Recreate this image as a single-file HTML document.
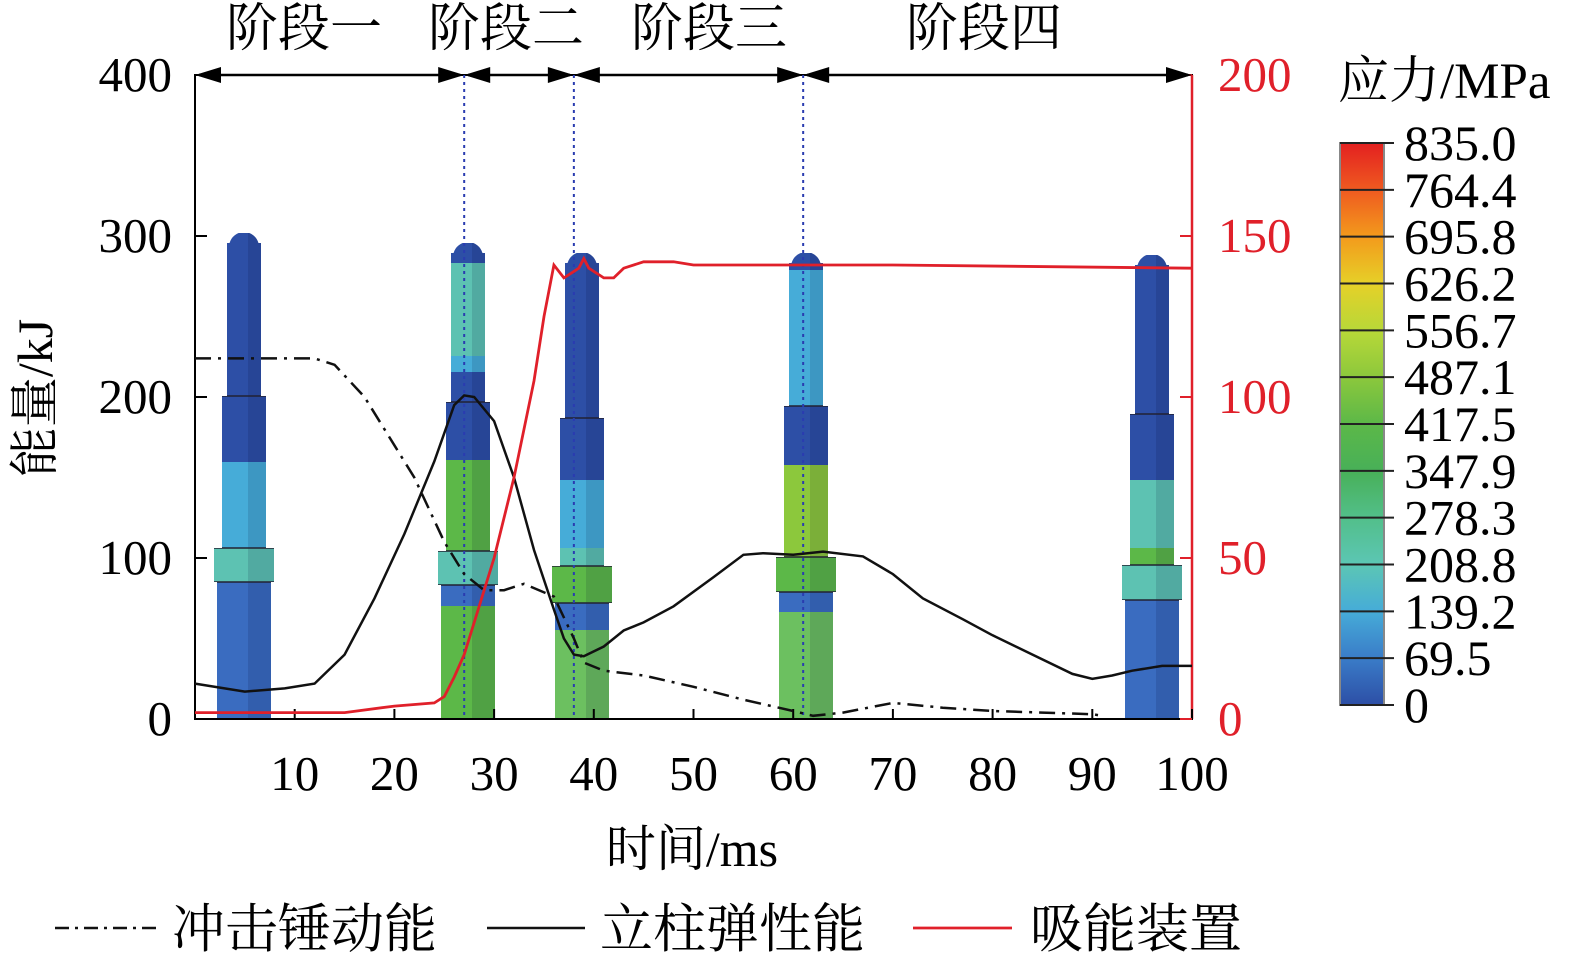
<!DOCTYPE html>
<html><head><meta charset="utf-8"><style>
body{margin:0;background:#fff}
svg text{font-family:"Liberation Serif","Noto Serif CJK SC",serif}
</style></head><body>
<svg width="1575" height="960" xmlns="http://www.w3.org/2000/svg" id="chart">
<g id="pillars"></g>
<g id="axes"></g>
<g id="series"></g>
<g id="cbar"></g>
</svg>
<script>
const NS="http://www.w3.org/2000/svg";
const xTicks=[10,20,30,40,50,60,70,80,90,100];
const yLeftTicks=[0,100,200,300,400];
const yRightTicks=[0,50,100,150,200];
const kinT=[0,12,14,17,20,22,25,27,29,31,33,36,38,39,41,45,50,55,60,62,65,70,75,80,85,90,91];
const kinV=[224,224,220,200,170,150,110,90,80,80,84,76,50,35,30,27,20,12,5,2,4,10,7,5,4,3,2];
const elaT=[0,5,9,12,15,18,21,24,26,27,28,30,32,34,36,37,38,39,41,43,45,48,52,55,57,60,63,67,70,73,77,80,84,88,90,92,94,97,100];
const elaV=[22,17,19,22,40,75,115,160,195,201,200,185,150,105,68,50,40,39,45,55,60,70,88,102,103,102,104,101,90,75,62,52,40,28,25,27,30,33,33];
const absT=[0,15,20,24,25,26,27,28,30,32,34,35,36,37,38,38.5,39,39.5,41,42,43,45,48,50,60,70,100];
const absV=[2,2,4,5,7,13,20,30,50,75,105,125,141,137,139,140,143,140,137,137,140,142,142,141,141,141,140];
const cbLabels=["835.0","764.4","695.8","626.2","556.7","487.1","417.5","347.9","278.3","208.8","139.2","69.5","0"];
const stageNames=["阶段一","阶段二","阶段三","阶段四"];
const stageBounds=[0,27,38,61,100];

const X0=195,X1=1192,YB=719,YT=75;
const sx=t=>X0+(X1-X0)*t/100;
const syL=v=>YB-(YB-YT)*v/400;
const syR=v=>YB-(YB-YT)*v/200;
function el(tag,a,parent,txt){const e=document.createElementNS(NS,tag);for(const k in a)e.setAttribute(k,a[k]);if(txt!==undefined)e.textContent=txt;parent.appendChild(e);return e;}
const ax=document.getElementById('axes'),se=document.getElementById('series'),pi=document.getElementById('pillars'),cb=document.getElementById('cbar');

const DB="#2d4fa6",MB="#3a6cc0",CY="#46acd8",TL="#5dc2b2",GR="#5cb848",LG="#6cc060";
const pillars=[
 {cx:244,top:233,rod:396,col:548,colB:582,bands:[[233,396,DB],[396,462,DB],[462,548,CY],[548,582,TL],[582,719,MB]]},
 {cx:468,top:243,rod:402,col:551,colB:585,bands:[[243,263,DB],[263,356,TL],[356,372,CY],[372,402,DB],[402,460,DB],[460,551,GR],[551,585,TL],[585,606,MB],[606,719,GR]]},
 {cx:582,top:253,rod:418,col:566,colB:603,bands:[[253,418,DB],[418,480,DB],[480,548,CY],[548,566,TL],[566,603,GR],[603,630,MB],[630,719,LG]]},
 {cx:806,top:253,rod:406,col:557,colB:592,bands:[[253,270,DB],[270,406,CY],[406,465,DB],[465,557,"#8cc83c"],[557,592,GR],[592,612,MB],[612,719,LG]]},
 {cx:1152,top:255,rod:414,col:565,colB:600,bands:[[255,414,DB],[414,480,DB],[480,548,TL],[548,565,GR],[565,600,TL],[600,719,MB]]}
];
pillars.forEach((p,i)=>{
 const g=el('g',{},pi);
 
 
 const cp=el('clipPath',{id:'cp'+i},g);
 el('rect',{x:p.cx-17,y:p.top+10,width:34,height:p.rod-p.top-10},cp);
 el('circle',{cx:p.cx,cy:p.top+14,r:15},cp);
 el('rect',{x:p.cx-22,y:p.rod,width:44,height:p.col-p.rod},cp);
 el('rect',{x:p.cx-30,y:p.col,width:60,height:p.colB-p.col},cp);
 el('rect',{x:p.cx-27,y:p.colB,width:54,height:YB-p.colB},cp);
 const gg=el('g',{'clip-path':'url(#cp'+i+')'},g);
 p.bands.forEach(b=>el('rect',{x:p.cx-31,y:b[0],width:62,height:b[1]-b[0],fill:b[2]},gg));
 el('rect',{x:p.cx+4,y:p.top,width:30,height:YB-p.top,fill:"rgba(0,0,40,0.12)"},gg);
 [p.rod,p.col,p.colB].forEach(y=>el('line',{x1:p.cx-30,x2:p.cx+30,y1:y,y2:y,stroke:"#223",'stroke-width':1.5},gg));
});

el('rect',{x:X0,y:YT,width:X1-X0,height:YB-YT,fill:'none',stroke:'#000','stroke-width':2},ax);
el('line',{x1:X1,y1:YT,x2:X1,y2:YB,stroke:'#e0202a','stroke-width':2.5},ax);
xTicks.forEach(t=>{el('line',{x1:sx(t),x2:sx(t),y1:YB,y2:YB-10,stroke:'#000','stroke-width':2},ax);
 const tx=el('text',{x:sx(t),y:790,'font-size':49,'text-anchor':'middle'},ax,t);});
yLeftTicks.forEach(v=>{el('line',{x1:X0,x2:X0+12,y1:syL(v),y2:syL(v),stroke:'#000','stroke-width':2},ax);
 const tx=el('text',{x:172,y:syL(v)+16,'font-size':49,'text-anchor':'end'},ax,v);});
yRightTicks.forEach(v=>{el('line',{x1:X1,x2:X1-12,y1:syR(v),y2:syR(v),stroke:'#e0202a','stroke-width':2},ax);
 const tx=el('text',{x:1218,y:syR(v)+16,'font-size':49,fill:'#e0202a'},ax,v);});
let t=el('text',{x:692,y:866,'font-size':50,'text-anchor':'middle'},ax,'时间/ms');
t=el('text',{x:0,y:0,'font-size':50,'text-anchor':'middle',transform:'translate(52,398) rotate(-90)'},ax,'能量/kJ');

for(let i=0;i<4;i++){
 const a=sx(stageBounds[i]),b=sx(stageBounds[i+1]);
 el('line',{x1:a+4,x2:b-4,y1:YT,y2:YT,stroke:'#000','stroke-width':2.5},ax);
 el('path',{d:`M${a} ${YT}l26 -8v16z M${b} ${YT}l-26 -8v16z`,fill:'#000'},ax);
 t=el('text',{x:[304,506,709,984][i],y:46,'font-size':52,'text-anchor':'middle'},ax,stageNames[i]);
 
 if(i>0) el('line',{x1:a,x2:a,y1:YT,y2:YB,stroke:'#2a3cb0','stroke-width':2,'stroke-dasharray':'3 4'},ax);
}

function path(T,V,sy){return T.map((x,i)=>(i?'L':'M')+sx(x).toFixed(1)+' '+sy(V[i]).toFixed(1)).join(' ');}
let p=el('path',{d:path(kinT,kinV,syL),fill:'none',stroke:'#111','stroke-width':2.5,'stroke-dasharray':'16 7 3 7'},se);

p=el('path',{d:path(elaT,elaV,syL),fill:'none',stroke:'#111','stroke-width':2.5},se);

p=el('path',{d:path(absT,absV,syR),fill:'none',stroke:'#e0202a','stroke-width':2.8},se);


const cbc=["#e32020","#ef5a20","#f39a1c","#e6d028","#b8d838","#8cc83c","#5cb848","#48b058","#52bf8a","#5cc6b4","#46acd8","#3a7cc8","#2d4fa6"];
const CT=143,CBt=705,seg=(CBt-CT)/12;
let grad=el('linearGradient',{id:'cg',x1:0,y1:0,x2:0,y2:1},cb);
cbc.forEach((c,i)=>el('stop',{offset:i/12,'stop-color':c},grad));
el('rect',{x:1340,y:CT,width:44,height:CBt-CT,fill:'url(#cg)',stroke:'#888','stroke-width':2},cb);
cbLabels.forEach((l,i)=>{const y=CT+seg*i;
 el('line',{x1:1340,x2:1394,y1:y,y2:y,stroke:'#222','stroke-width':2},cb);
 const tx=el('text',{x:1404,y:y+17,'font-size':50},cb,l);});
t=el('text',{x:1338,y:98,'font-size':51},cb,'应力/MPa');

const lg=el('g',{},document.getElementById('chart'));

el('line',{x1:55,x2:160,y1:928,y2:928,stroke:'#111','stroke-width':2.5,'stroke-dasharray':'14 6 3 6'},lg);
el('text',{x:172,y:947,'font-size':53},lg,'冲击锤动能');
el('line',{x1:487,x2:585,y1:928,y2:928,stroke:'#111','stroke-width':2.5},lg);
el('text',{x:600,y:947,'font-size':53},lg,'立柱弹性能');
el('line',{x1:913,x2:1012,y1:928,y2:928,stroke:'#e0202a','stroke-width':2.8},lg);
el('text',{x:1030,y:947,'font-size':53},lg,'吸能装置');
</script>
</body></html>
